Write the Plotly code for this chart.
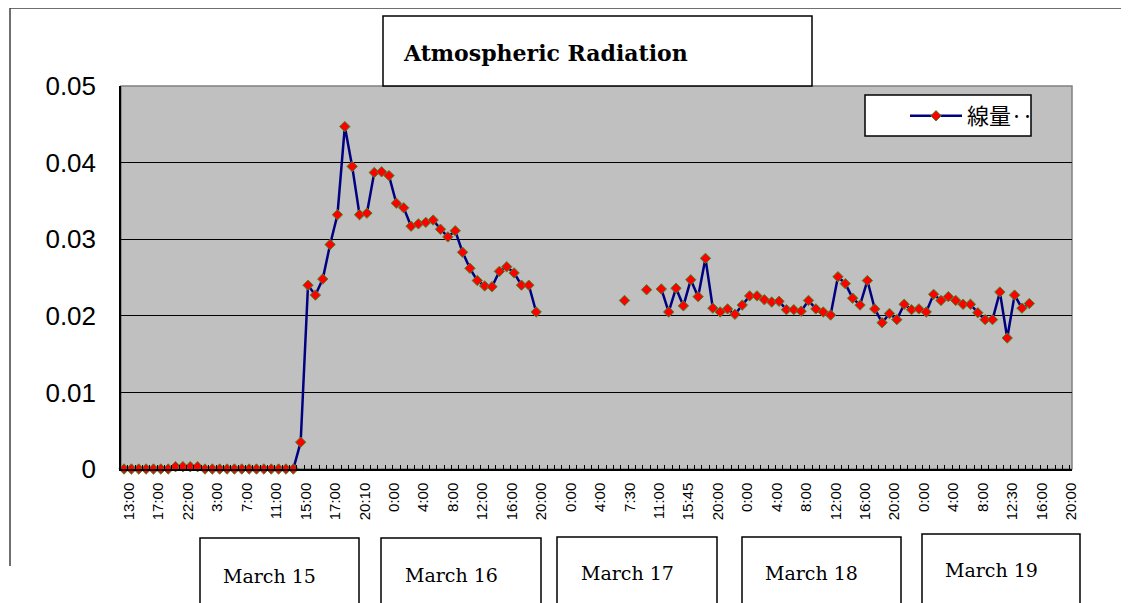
import plotly.graph_objects as go

# ---------------- data ----------------
dose = [
    0, 0, 0, 0, 0, 0, 0, 0.0003, 0.0003, 0.0003, 0.0003, 0, 0, 0, 0, 0, 0, 0, 0, 0, 0, 0, 0, 0,
    0.0035, 0.0240, 0.0227, 0.0248, 0.0293, 0.0332, 0.0447, 0.0395, 0.0332, 0.0334,
    0.0387, 0.0388, 0.0383, 0.0347, 0.0341, 0.0317, 0.0320, 0.0322, 0.0325, 0.0313,
    0.0303, 0.0311, 0.0283, 0.0262, 0.0246, 0.0239, 0.0238, 0.0258, 0.0264, 0.0256,
    0.0240, 0.0240, 0.0205,
    None, None, None, None, None, None, None, None, None, None, None,
    0.0220, None, None, 0.0234, None,
    0.0235, 0.0205, 0.0236, 0.0213, 0.0247, 0.0225, 0.0275, 0.0210, 0.0205, 0.0209,
    0.0202, 0.0214, 0.0226, 0.0226, 0.0221, 0.0218, 0.0219, 0.0208, 0.0208, 0.0206,
    0.0220, 0.0209, 0.0205, 0.0201, 0.0251, 0.0242, 0.0223, 0.0214, 0.0246, 0.0209,
    0.0191, 0.0203, 0.0195, 0.0215, 0.0208, 0.0209, 0.0205, 0.0228, 0.0220, 0.0225,
    0.0220, 0.0215, 0.0215, 0.0204, 0.0195, 0.0195, 0.0231, 0.0171, 0.0227, 0.0210,
    0.0216,
    None, None, None, None, None,
]
categories = list(range(len(dose)))

tick_labels = ["13:00", "17:00", "22:00", "3:00", "7:00", "11:00", "15:00", "17:00", "20:10",
               "0:00", "4:00", "8:00", "12:00", "16:00", "20:00",
               "0:00", "4:00", "7:30", "11:00", "15:45", "20:00",
               "0:00", "4:00", "8:00", "12:00", "16:00", "20:00",
               "0:00", "4:00", "8:00", "12:30", "16:00", "20:00"]
label_every = 4

days = ["March 15", "March 16", "March 17", "March 18", "March 19"]
series_name = "線量‥"
title_text = "Atmospheric Radiation"

# ---------------- layout helpers (pixels -> paper) ----------------
# the page body adds an 8px margin, so shift the whole figure up/left by 8px
O = 8
W, H = 1129 - O, 603 - O
L, R, T, B = 121 - O, 1072 - O, 86 - O, 469 - O


def px(x):
    return (x - O - L) / (R - L)


def py(y):
    return (B - (y - O)) / (B - T)


tickvals = [0.7 + label_every * k for k in range(len(tick_labels))]

fig = go.Figure()
fig.add_trace(go.Scatter(
    x=categories, y=dose, mode="lines+markers", name=series_name,
    line=dict(color="#000080", width=2.5),
    marker=dict(symbol="diamond", size=8, color="#FF0000",
                line=dict(color="#3C8C28", width=1)),
    connectgaps=False, cliponaxis=False,
))

shapes = []
# outer chart border (partially visible)
shapes.append(dict(type="path", xref="paper", yref="paper",
                   path=f"M {px(10)},{py(566)} L {px(10)},{py(8)} L {px(1129)},{py(8)}",
                   line=dict(color="#404040", width=1.5)))
# plot area border
shapes.append(dict(type="rect", xref="paper", yref="paper", x0=0, x1=1, y0=0, y1=1,
                   line=dict(color="#808080", width=1.5), layer="below"))
# title box
shapes.append(dict(type="rect", xref="paper", yref="paper",
                   x0=px(383), x1=px(812), y0=py(86), y1=py(16),
                   line=dict(color="black", width=1.5), fillcolor="white", layer="above"))
# legend box
shapes.append(dict(type="rect", xref="paper", yref="paper",
                   x0=px(865), x1=px(1031), y0=py(136), y1=py(95),
                   line=dict(color="black", width=1.5), fillcolor="white", layer="above"))

# day boxes
day_boxes = [(200, 359, 538), (381, 541, 538), (557, 717, 537), (742, 901, 537), (922, 1080, 534)]
day_text = [(221, 576), (403, 575), (579, 573), (763, 573), (943, 570)]
annotations = []
for name, (x0, x1, y0), (tx, ty) in zip(days, day_boxes, day_text):
    shapes.append(dict(type="rect", xref="paper", yref="paper",
                       x0=px(x0), x1=px(x1), y0=py(615), y1=py(y0),
                       line=dict(color="black", width=1.5), fillcolor="white"))
    annotations.append(dict(text=name, xref="paper", yref="paper", x=px(tx), y=py(ty),
                            xanchor="left", yanchor="middle", showarrow=False,
                            font=dict(family="DejaVu Serif", size=19, color="black")))

annotations.append(dict(text="<b>" + title_text + "</b>", xref="paper", yref="paper",
                        x=px(401), y=py(53),
                        xanchor="left", yanchor="middle", showarrow=False,
                        font=dict(family="DejaVu Serif", size=22, color="black")))

fig.update_layout(
    width=W, height=H,
    margin=dict(l=L, r=W - R, t=T, b=H - B, pad=0),
    paper_bgcolor="white", plot_bgcolor="#C0C0C0",
    shapes=shapes, annotations=annotations,
    showlegend=True,
    legend=dict(x=px(905), y=py(95), xanchor="left", yanchor="top",
                bgcolor="rgba(0,0,0,0)", borderwidth=0,
                font=dict(family="Noto Sans CJK JP", size=22, color="black"),
                itemwidth=52),
    xaxis=dict(range=[-0.41, 128.8], tickvals=tickvals, ticktext=tick_labels,
               tickangle=-90, ticks="", showgrid=False, zeroline=False,
               showline=True, linecolor="black", linewidth=1.5,
               tickfont=dict(family="Liberation Sans", size=15, color="black"),
               ticklabelstandoff=6,
               minor=dict(tickvals=[i + 0.5 for i in categories], ticks="inside",
                          ticklen=4, tickcolor="black", showgrid=False)),
    yaxis=dict(range=[0, 0.05], tickvals=[0, 0.01, 0.02, 0.03, 0.04, 0.05],
               ticktext=["0", "0.01", "0.02", "0.03", "0.04", "0.05"],
               showgrid=True, gridcolor="black", gridwidth=1, zeroline=False,
               showline=True, linecolor="black", linewidth=1.5, ticks="",
               ticklabelstandoff=18,
               tickfont=dict(family="Liberation Sans", size=26, color="black")),
)

fig.write_html("out.html")
